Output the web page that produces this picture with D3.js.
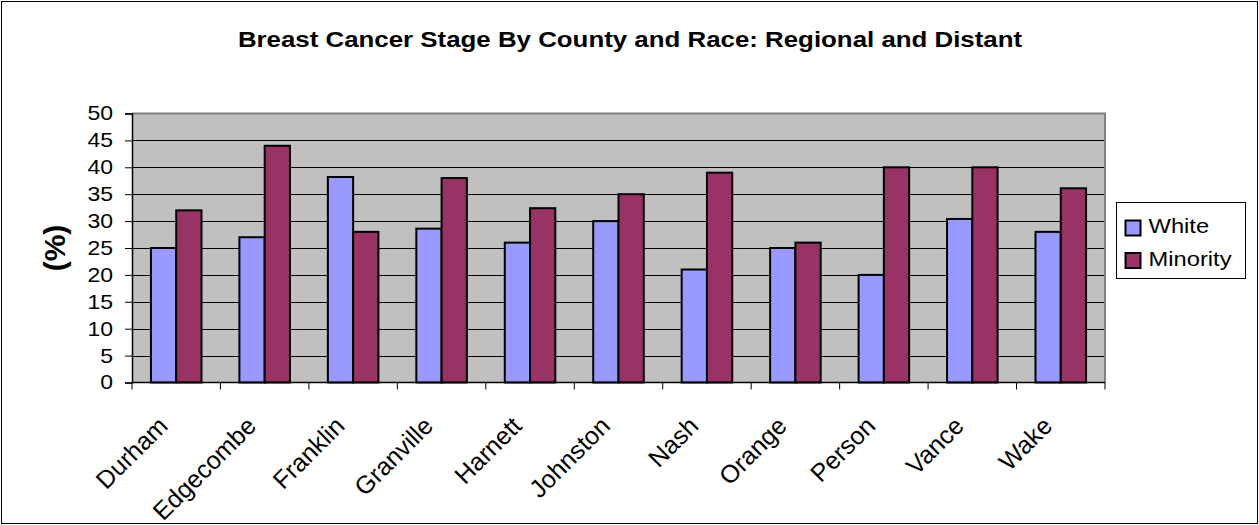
<!DOCTYPE html>
<html>
<head>
<meta charset="utf-8">
<script src="https://cdn.jsdelivr.net/npm/d3@7"></script>
<style>
  html, body { margin: 0; padding: 0; background: #fff; }
  svg { display: block; font-family: Arial, "Liberation Sans", sans-serif; }
</style>
</head>
<body>
<svg id="chart" width="1259" height="525"></svg>
<script>
// Percent of breast cancers diagnosed at regional or distant stage
const counties = ["Durham", "Edgecombe", "Franklin", "Granville", "Harnett", "Johnston",
                  "Nash", "Orange", "Person", "Vance", "Wake"];
const white    = [25, 27, 38.2, 28.6, 26, 30, 21, 25, 20, 30.4, 28];
const minority = [32, 44, 28, 38, 32.4, 35, 39, 26, 40, 40, 36.1];
const seriesNames = ["White", "Minority"];
const seriesColors = ["#9999FF", "#993366"];
const yTicks = [0, 5, 10, 15, 20, 25, 30, 35, 40, 45, 50];

const svg = d3.select("#chart");
const W = 1259, H = 525;
const plot = { left: 132, right: 1105, top: 113.5, bottom: 382.5 };
const stretch = 1.15; // wide lettering

// Chart frame
svg.append("rect")
  .attr("x", 1.5).attr("y", 1.5).attr("width", W - 3).attr("height", H - 3)
  .attr("fill", "#fff").attr("stroke", "#000").attr("stroke-width", 1);

// Title
svg.append("text")
  .attr("transform", `translate(630,47) scale(1.175,1)`)
  .attr("text-anchor", "middle")
  .attr("font-size", 22).attr("font-weight", "bold")
  .text("Breast Cancer Stage By County and Race: Regional and Distant");

const x0 = d3.scaleBand().domain(counties).range([plot.left, plot.right]).paddingInner(0).paddingOuter(0);
const barW = x0.bandwidth() / 3.5;
const x1 = d3.scaleBand().domain(seriesNames).range([0, barW * 2]);
const y = d3.scaleLinear().domain([0, 50]).range([plot.bottom, plot.top]);

// Plot background
svg.append("rect")
  .attr("x", plot.left).attr("y", plot.top)
  .attr("width", plot.right - plot.left).attr("height", plot.bottom - plot.top)
  .attr("fill", "#C0C0C0");

// Horizontal gridlines
svg.append("g").selectAll("line")
  .data(yTicks.filter(t => t > 0 && t < 50))
  .join("line")
  .attr("x1", plot.left).attr("x2", plot.right)
  .attr("y1", d => Math.round(y(d)) + 0.5).attr("y2", d => Math.round(y(d)) + 0.5)
  .attr("stroke", "#000").attr("stroke-width", 1);

// Top and right plot border
svg.append("path")
  .attr("d", `M${plot.left},${plot.top} H${plot.right} V${plot.bottom}`)
  .attr("fill", "none").attr("stroke", "#808080").attr("stroke-width", 2);

// Bars
const rows = counties.map((c, i) => ({ county: c, values: [white[i], minority[i]] }));
const groups = svg.append("g").selectAll("g")
  .data(rows).join("g")
  .attr("transform", d => `translate(${x0(d.county) + (x0.bandwidth() - barW * 2) / 2},0)`);
groups.selectAll("rect")
  .data(d => d.values.map((v, k) => ({ name: seriesNames[k], value: v, k })))
  .join("rect")
  .attr("x", d => x1(d.name))
  .attr("y", d => y(d.value))
  .attr("width", x1.bandwidth())
  .attr("height", d => y(0) - y(d.value))
  .attr("fill", d => seriesColors[d.k])
  .attr("stroke", "#000").attr("stroke-width", 2);

// Y axis
const yAxis = d3.axisLeft(y).tickValues(yTicks).tickSize(7).tickPadding(12);
const gy = svg.append("g").attr("transform", `translate(${plot.left},0)`).call(yAxis);
gy.select(".domain").attr("stroke", "#000").attr("stroke-width", 1.5);
gy.selectAll(".tick line").attr("stroke", "#000");
gy.selectAll(".tick text")
  .attr("font-size", 20).attr("fill", "#000")
  .attr("font-family", "Arial, 'Liberation Sans', sans-serif")
  .attr("x", -19 / stretch)
  .attr("transform", `scale(${stretch},1)`);

// X axis: ticks at category boundaries
const xBoundaries = counties.map(c => x0(c)).concat([plot.right]);
const gx = svg.append("g");
gx.append("line")
  .attr("x1", plot.left).attr("x2", plot.right)
  .attr("y1", plot.bottom).attr("y2", plot.bottom)
  .attr("stroke", "#000").attr("stroke-width", 1.5);
gx.selectAll("line.tick").data(xBoundaries).join("line").attr("class", "tick")
  .attr("x1", d => d).attr("x2", d => d)
  .attr("y1", plot.bottom).attr("y2", plot.bottom + 7)
  .attr("stroke", "#000");

// Rotated category labels
gx.selectAll("text").data(counties).join("text")
  .attr("transform", d => `translate(${x0(d) + x0.bandwidth() / 2 - 7},${plot.bottom + 45}) rotate(-45)`)
  .attr("text-anchor", "end")
  .attr("font-size", 25)
  .text(d => d);

// Y axis title
svg.append("text")
  .attr("transform", "translate(65,248) rotate(-90)")
  .attr("text-anchor", "middle")
  .attr("font-size", 30).attr("font-weight", "bold")
  .text("(%)");

// Legend
const lg = svg.append("g").attr("transform", "translate(1116.5,202.5)");
lg.append("rect").attr("width", 129).attr("height", 76)
  .attr("fill", "#fff").attr("stroke", "#000").attr("stroke-width", 1);
const items = lg.selectAll("g").data(seriesNames).join("g")
  .attr("transform", (d, i) => `translate(9,${18 + i * 32.5})`);
items.append("rect").attr("width", 15).attr("height", 15)
  .attr("fill", (d, i) => seriesColors[i]).attr("stroke", "#000").attr("stroke-width", 2);
items.append("text")
  .attr("transform", `translate(23,12.5) scale(1.13,1)`)
  .attr("font-size", 21).text(d => d);
</script>
</body>
</html>
